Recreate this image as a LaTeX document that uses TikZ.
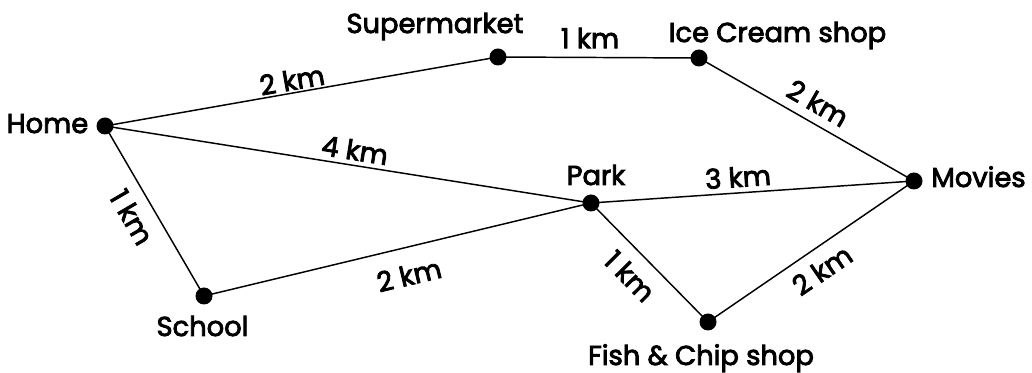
\documentclass[tikz,border=0pt]{standalone}
\usepackage{fontspec}
\setmainfont[FakeBold=3]{Poppins}
\begin{document}
\begin{tikzpicture}[x=0.75pt,y=-0.75pt,
  stop/.style={circle,fill=black,inner sep=0pt,minimum size=12.75pt},
  place/.style={anchor=base,inner sep=0pt,font=\fontsize{20.5}{22}\selectfont},
  dist/.style={inner sep=0pt,font=\fontsize{20.5}{22}\selectfont},
  road/.style={line width=1.1pt}]
\useasboundingbox (0,0) rectangle (1032,373);
\node[stop] (home) at (105,126) {};
\node[stop] (super) at (498,57) {};
\node[stop] (ice) at (699,58) {};
\node[stop] (movies) at (914,181) {};
\node[stop] (park) at (591,203) {};
\node[stop] (school) at (204,296) {};
\node[stop] (fish) at (708,322) {};
\draw[road] (home.center) -- (super.center);
\draw[road] (super.center) -- (ice.center);
\draw[road] (ice.center) -- (movies.center);
\draw[road] (home.center) -- (park.center);
\draw[road] (park.center) -- (movies.center);
\draw[road] (home.center) -- (school.center);
\draw[road] (school.center) -- (park.center);
\draw[road] (park.center) -- (fish.center);
\draw[road] (fish.center) -- (movies.center);
\node[place] (homeL) at (47.5,133) {Home};
\node[place] (superL) at (435,33) {Supermarket};
\node[place] (iceL) at (777.5,42) {Ice Cream shop};
\node[place] (moviesL) at (978.5,187) {Movies};
\node[place] (parkL) at (596,185) {Park};
\node[place] (schoolL) at (202.5,336) {School};
\node[place] (fishL) at (701,365) {Fish \& Chip shop};
\node[dist,rotate=10] (d1) at (292,80) {2 km};
\node[dist] (d2) at (590,38) {1 km};
\node[dist,rotate=-29.8] (d3) at (818,103) {2 km};
\node[dist,rotate=-9] (d4) at (355,150) {4 km};
\node[dist,rotate=3.9] (d5) at (738,177) {3 km};
\node[dist,rotate=-59.8] (d6) at (132,217) {1 km};
\node[dist,rotate=13.5] (d7) at (409,275) {2 km};
\node[dist,rotate=-45.5] (d8) at (630,276) {1 km};
\node[dist,rotate=34.4] (d9) at (822,270) {2 km};
\end{tikzpicture}
\end{document}
